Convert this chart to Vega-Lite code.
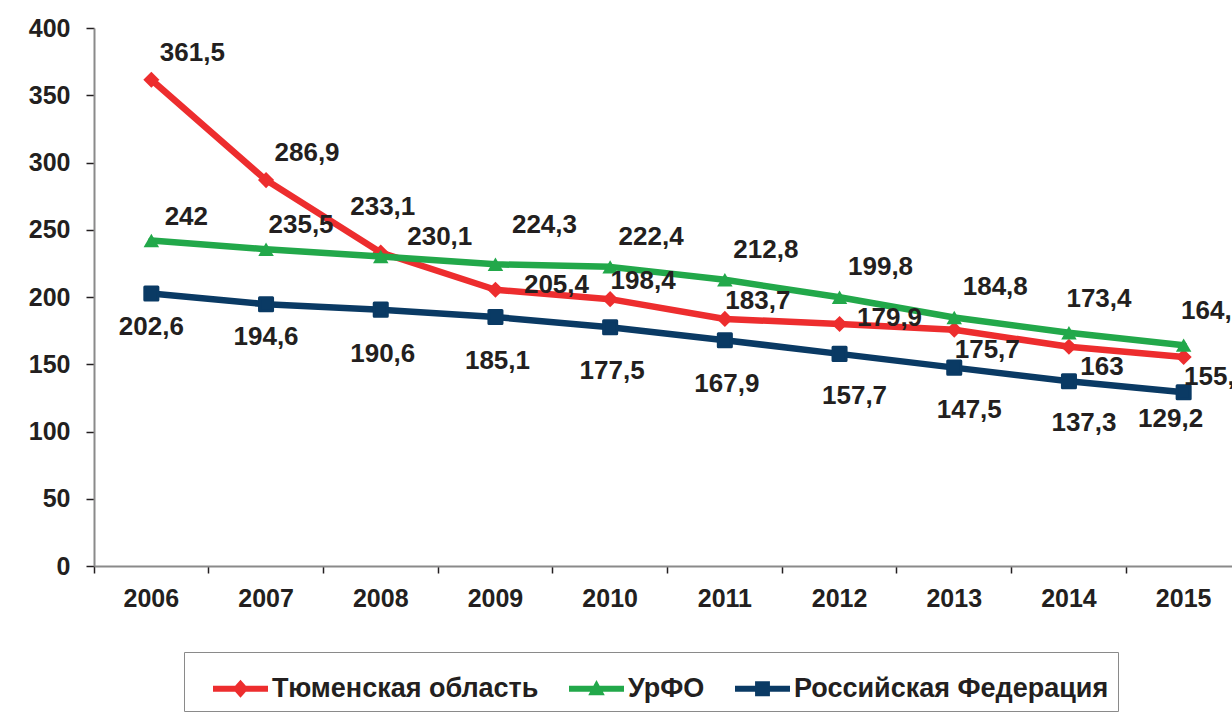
{
  "$schema": "https://vega.github.io/schema/vega-lite/v6.json",
  "width": 1138,
  "height": 538,
  "autosize": {"type": "none"},
  "padding": {"left": 94, "top": 28, "right": 0, "bottom": 151},
  "background": "white",
  "config": {
    "view": {"stroke": null},
    "font": "Liberation Sans",
    "locale": {"number": {"decimal": ",", "thousands": " ", "grouping": [3], "currency": ["", ""]}},
    "text": {"font": "Liberation Sans", "fontSize": 26, "fontWeight": "bold", "color": "#231f20", "align": "center", "baseline": "middle"}
  },
  "data": {
    "values": [
      {"series": "Тюменская область", "year": "2006", "value": 361.5},
      {"series": "Тюменская область", "year": "2007", "value": 286.9},
      {"series": "Тюменская область", "year": "2008", "value": 233.1},
      {"series": "Тюменская область", "year": "2009", "value": 205.4},
      {"series": "Тюменская область", "year": "2010", "value": 198.4},
      {"series": "Тюменская область", "year": "2011", "value": 183.7},
      {"series": "Тюменская область", "year": "2012", "value": 179.9},
      {"series": "Тюменская область", "year": "2013", "value": 175.7},
      {"series": "Тюменская область", "year": "2014", "value": 163},
      {"series": "Тюменская область", "year": "2015", "value": 155.4},
      {"series": "УрФО", "year": "2006", "value": 242},
      {"series": "УрФО", "year": "2007", "value": 235.5},
      {"series": "УрФО", "year": "2008", "value": 230.1},
      {"series": "УрФО", "year": "2009", "value": 224.3},
      {"series": "УрФО", "year": "2010", "value": 222.4},
      {"series": "УрФО", "year": "2011", "value": 212.8},
      {"series": "УрФО", "year": "2012", "value": 199.8},
      {"series": "УрФО", "year": "2013", "value": 184.8},
      {"series": "УрФО", "year": "2014", "value": 173.4},
      {"series": "УрФО", "year": "2015", "value": 164.2},
      {"series": "Российская Федерация", "year": "2006", "value": 202.6},
      {"series": "Российская Федерация", "year": "2007", "value": 194.6},
      {"series": "Российская Федерация", "year": "2008", "value": 190.6},
      {"series": "Российская Федерация", "year": "2009", "value": 185.1},
      {"series": "Российская Федерация", "year": "2010", "value": 177.5},
      {"series": "Российская Федерация", "year": "2011", "value": 167.9},
      {"series": "Российская Федерация", "year": "2012", "value": 157.7},
      {"series": "Российская Федерация", "year": "2013", "value": 147.5},
      {"series": "Российская Федерация", "year": "2014", "value": 137.3},
      {"series": "Российская Федерация", "year": "2015", "value": 129.2}
    ]
  },
  "encoding": {
    "x": {
      "field": "year", "type": "nominal",
      "scale": {"type": "band", "paddingInner": 0, "paddingOuter": 0, "range": [0, 1147]},
      "axis": {"title": null, "bandPosition": 0, "labelAngle": 0, "labelFont": "Liberation Sans", "labelFontSize": 25, "labelFontWeight": "bold", "labelColor": "#231f20", "labelPadding": 13, "tickSize": 7, "tickColor": "#231f20", "tickWidth": 1.5, "domainColor": "#8a8a8a", "domainWidth": 2, "grid": false}
    },
    "y": {
      "field": "value", "type": "quantitative",
      "scale": {"domain": [0, 400], "nice": false},
      "axis": {"title": null, "values": [0, 50, 100, 150, 200, 250, 300, 350, 400], "labelFont": "Liberation Sans", "labelFontSize": 25, "labelFontWeight": "bold", "labelColor": "#231f20", "labelPadding": 16, "tickSize": 8, "tickColor": "#231f20", "tickWidth": 1.5, "domainColor": "#8a8a8a", "domainWidth": 2, "grid": false}
    }
  },
  "layer": [
    {
      "transform": [{"filter": {"field": "series", "equal": "Тюменская область"}}],
      "mark": {"type": "line", "color": "#ed2d2e", "strokeWidth": 6.5, "strokeCap": "round", "strokeJoin": "round"}
    },
    {
      "transform": [{"filter": {"field": "series", "equal": "Тюменская область"}}],
      "mark": {"type": "point", "shape": "diamond", "filled": true, "size": 260, "color": "#ed2d2e", "opacity": 1}
    },
    {
      "transform": [{"filter": {"field": "series", "equal": "УрФО"}}],
      "mark": {"type": "line", "color": "#22a84a", "strokeWidth": 6.5, "strokeCap": "round", "strokeJoin": "round"}
    },
    {
      "transform": [{"filter": {"field": "series", "equal": "УрФО"}}],
      "mark": {"type": "point", "shape": "triangle-up", "filled": true, "size": 240, "color": "#22a84a", "opacity": 1}
    },
    {
      "transform": [{"filter": {"field": "series", "equal": "Российская Федерация"}}],
      "mark": {"type": "line", "color": "#0a3a64", "strokeWidth": 6.5, "strokeCap": "round", "strokeJoin": "round"}
    },
    {
      "transform": [{"filter": {"field": "series", "equal": "Российская Федерация"}}],
      "mark": {"type": "point", "shape": "square", "filled": true, "size": 170, "color": "#0a3a64", "stroke": "#0a3a64", "strokeWidth": 3, "strokeJoin": "round", "opacity": 1}
    },
    {
      "transform": [{"filter": {"and": [{"field": "series", "equal": "Тюменская область"}, {"field": "year", "oneOf": ["2006", "2007"]}]}}],
      "mark": {"type": "text", "dx": 41, "dy": -27},
      "encoding": {"text": {"field": "value", "type": "quantitative", "format": ".1~f"}}
    },
    {
      "transform": [{"filter": {"and": [{"field": "series", "equal": "Тюменская область"}, {"field": "year", "oneOf": ["2008"]}]}}],
      "mark": {"type": "text", "dx": 2, "dy": -45},
      "encoding": {"text": {"field": "value", "type": "quantitative", "format": ".1~f"}}
    },
    {
      "transform": [{"filter": {"and": [{"field": "series", "equal": "Тюменская область"}, {"field": "year", "oneOf": ["2009"]}]}}],
      "mark": {"type": "text", "dx": 61, "dy": -5},
      "encoding": {"text": {"field": "value", "type": "quantitative", "format": ".1~f"}}
    },
    {
      "transform": [{"filter": {"and": [{"field": "series", "equal": "Тюменская область"}, {"field": "year", "oneOf": ["2010", "2011"]}]}}],
      "mark": {"type": "text", "dx": 33, "dy": -18},
      "encoding": {"text": {"field": "value", "type": "quantitative", "format": ".1~f"}}
    },
    {
      "transform": [{"filter": {"and": [{"field": "series", "equal": "Тюменская область"}, {"field": "year", "oneOf": ["2012"]}]}}],
      "mark": {"type": "text", "dx": 50, "dy": -6},
      "encoding": {"text": {"field": "value", "type": "quantitative", "format": ".1~f"}}
    },
    {
      "transform": [{"filter": {"and": [{"field": "series", "equal": "Тюменская область"}, {"field": "year", "oneOf": ["2013", "2014", "2015"]}]}}],
      "mark": {"type": "text", "dx": 33, "dy": 20},
      "encoding": {"text": {"field": "value", "type": "quantitative", "format": ".1~f"}}
    },
    {
      "transform": [{"filter": {"and": [{"field": "series", "equal": "УрФО"}, {"field": "year", "oneOf": ["2006", "2007"]}]}}],
      "mark": {"type": "text", "dx": 35, "dy": -24},
      "encoding": {"text": {"field": "value", "type": "quantitative", "format": ".1~f"}}
    },
    {
      "transform": [{"filter": {"and": [{"field": "series", "equal": "УрФО"}, {"field": "year", "oneOf": ["2008"]}]}}],
      "mark": {"type": "text", "dx": 59, "dy": -20},
      "encoding": {"text": {"field": "value", "type": "quantitative", "format": ".1~f"}}
    },
    {
      "transform": [{"filter": {"and": [{"field": "series", "equal": "УрФО"}, {"field": "year", "oneOf": ["2009"]}]}}],
      "mark": {"type": "text", "dx": 49, "dy": -39},
      "encoding": {"text": {"field": "value", "type": "quantitative", "format": ".1~f"}}
    },
    {
      "transform": [{"filter": {"and": [{"field": "series", "equal": "УрФО"}, {"field": "year", "oneOf": ["2010", "2011", "2012", "2013"]}]}}],
      "mark": {"type": "text", "dx": 41, "dy": -30},
      "encoding": {"text": {"field": "value", "type": "quantitative", "format": ".1~f"}}
    },
    {
      "transform": [{"filter": {"and": [{"field": "series", "equal": "УрФО"}, {"field": "year", "oneOf": ["2014", "2015"]}]}}],
      "mark": {"type": "text", "dx": 30, "dy": -34},
      "encoding": {"text": {"field": "value", "type": "quantitative", "format": ".1~f"}}
    },
    {
      "transform": [{"filter": {"and": [{"field": "series", "equal": "Российская Федерация"}, {"field": "year", "oneOf": ["2006", "2007"]}]}}],
      "mark": {"type": "text", "dx": 0, "dy": 33},
      "encoding": {"text": {"field": "value", "type": "quantitative", "format": ".1~f"}}
    },
    {
      "transform": [{"filter": {"and": [{"field": "series", "equal": "Российская Федерация"}, {"field": "year", "oneOf": ["2008", "2009", "2010", "2011"]}]}}],
      "mark": {"type": "text", "dx": 2, "dy": 44},
      "encoding": {"text": {"field": "value", "type": "quantitative", "format": ".1~f"}}
    },
    {
      "transform": [{"filter": {"and": [{"field": "series", "equal": "Российская Федерация"}, {"field": "year", "oneOf": ["2012", "2013", "2014"]}]}}],
      "mark": {"type": "text", "dx": 15, "dy": 42},
      "encoding": {"text": {"field": "value", "type": "quantitative", "format": ".1~f"}}
    },
    {
      "transform": [{"filter": {"and": [{"field": "series", "equal": "Российская Федерация"}, {"field": "year", "oneOf": ["2015"]}]}}],
      "mark": {"type": "text", "dx": -13, "dy": 27},
      "encoding": {"text": {"field": "value", "type": "quantitative", "format": ".1~f"}}
    },
    {
      "mark": {"type": "point", "filled": true, "size": 0, "opacity": 1},
      "encoding": {
        "color": {
          "field": "series", "type": "nominal",
          "scale": {"domain": ["Тюменская область", "УрФО", "Российская Федерация"], "range": ["#ed2d2e", "#22a84a", "#0a3a64"]},
          "legend": {"title": null, "orient": "none", "legendX": 90, "legendY": 624, "direction": "horizontal", "strokeColor": "#8a8a8a", "padding": 9, "symbolSize": 3025, "symbolStrokeWidth": 0, "symbolOpacity": 1, "symbolOffset": 20, "labelFont": "Liberation Sans", "labelFontSize": 27, "labelFontWeight": "bold", "labelColor": "#231f20", "labelOffset": 4, "columnPadding": 10, "labelLimit": 500}
        },
        "shape": {
          "field": "series", "type": "nominal",
          "scale": {
            "domain": ["Тюменская область", "УрФО", "Российская Федерация"],
            "range": [
              "M-1,-0.11 L1,-0.11 L1,0.11 L-1,0.11 Z M-0.29,0 L0,-0.33 L0.29,0 L0,0.33 Z",
              "M-1,-0.11 L1,-0.11 L1,0.11 L-1,0.11 Z M0,-0.32 L0.3,0.24 L-0.3,0.24 Z",
              "M-1,-0.11 L1,-0.11 L1,0.11 L-1,0.11 Z M-0.27,-0.27 L0.27,-0.27 L0.27,0.27 L-0.27,0.27 Z"
            ]
          }
        }
      }
    }
  ]
}
